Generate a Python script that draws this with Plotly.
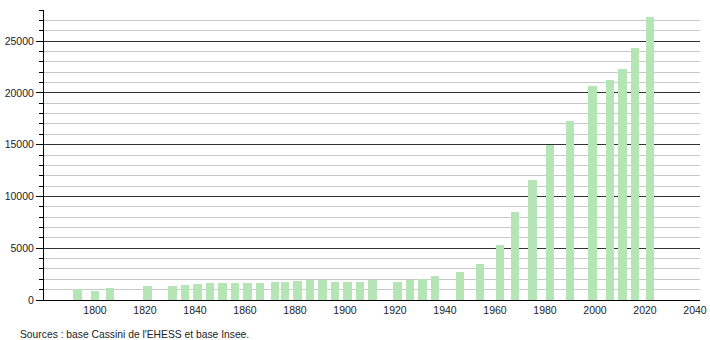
import plotly.graph_objects as go

years = [1793, 1800, 1806, 1821, 1831, 1836, 1841, 1846, 1851, 1856, 1861, 1866,
         1872, 1876, 1881, 1886, 1891, 1896, 1901, 1906, 1911, 1921, 1926, 1931,
         1936, 1946, 1954, 1962, 1968, 1975, 1982, 1990, 1999, 2006, 2011, 2016, 2022]
population = [1035, 905, 1160, 1355, 1355, 1450, 1550, 1645, 1645, 1645, 1645, 1645,
              1745, 1745, 1870, 1940, 1940, 1775, 1775, 1775, 1940, 1775, 1940, 2065,
              2360, 2745, 3520, 5350, 8460, 11630, 14955, 17250, 20640, 21250, 22290, 24320, 27300]
x_ticks = [1800, 1820, 1840, 1860, 1880, 1900, 1920, 1940, 1960, 1980, 2000, 2020, 2040]
source_text = "Sources : base Cassini de l'EHESS et base Insee."

font_family = "Liberation Sans, Arial, sans-serif"

fig = go.Figure()
fig.add_trace(go.Bar(
    x=years, y=population, width=3.3,
    marker=dict(color="#b5e5b5", line=dict(width=0)),
    hoverinfo="x+y",
))

fig.update_layout(
    width=710, height=340,
    margin=dict(l=44, r=10, t=10, b=40, autoexpand=False),
    paper_bgcolor="white", plot_bgcolor="white",
    showlegend=False,
    font=dict(family=font_family, size=10, color="#222"),
    bargap=0,
    xaxis=dict(
        range=[1779.6, 2042], tickmode="array", tickvals=x_ticks,
        ticktext=[str(v) for v in x_ticks], automargin=False,
        showgrid=False, zeroline=False, showline=True, linecolor="#000", linewidth=1,
        ticks="", ticklen=0, tickfont=dict(size=10.5, color="#222"),
    ),
    yaxis=dict(
        range=[0, 28000], tickmode="linear", tick0=0, dtick=5000, tickformat="d",
        automargin=False,
        showgrid=True, gridcolor="#333", gridwidth=1,
        zeroline=False, showline=True, linecolor="#000", linewidth=1,
        ticks="outside", ticklen=7, tickcolor="#000", tickwidth=1,
        tickfont=dict(size=10.5, color="#222"),
        minor=dict(dtick=1000, showgrid=True, gridcolor="#c8c8c8", gridwidth=1,
                   ticks="outside", ticklen=4, tickcolor="#000"),
    ),
    annotations=[dict(
        text=source_text, xref="paper", yref="paper",
        x=-0.04, y=-0.093, xanchor="left", yanchor="top", showarrow=False,
        font=dict(size=10.3, color="#222"),
    )],
)

fig.write_html("out.html")
